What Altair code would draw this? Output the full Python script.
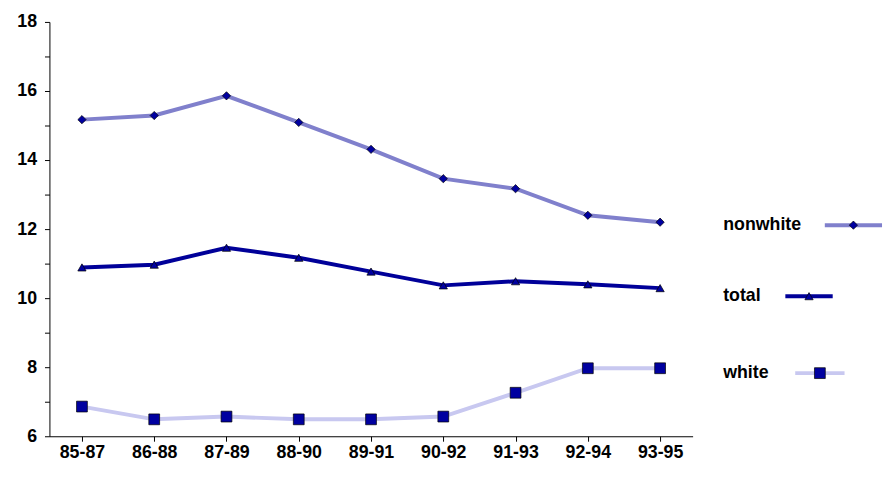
import altair as alt
import pandas as pd

periods = ["85-87", "86-88", "87-89", "88-90", "89-91", "90-92", "91-93", "92-94", "93-95"]
nonwhite = [15.17, 15.29, 15.86, 15.09, 14.31, 13.46, 13.17, 12.4, 12.2]
total = [10.89, 10.97, 11.46, 11.17, 10.77, 10.37, 10.49, 10.4, 10.29]
white = [6.86, 6.49, 6.57, 6.49, 6.49, 6.57, 7.26, 7.97, 7.97]

series = ["nonwhite", "total", "white"]
line_colors = ["#8080cc", "#000099", "#c8c8f0"]
shapes = ["diamond", "triangle-up", "square"]
sizes = [70, 70, 120]

rows = []
for name, vals in zip(series, [nonwhite, total, white]):
    for p, v in zip(periods, vals):
        rows.append({"period": p, "value": v, "series": name})
df = pd.DataFrame(rows)

font = "Liberation Sans"
x = alt.X("period:O", sort=periods, title=None,
          scale=alt.Scale(type="point", padding=0.45),
          axis=alt.Axis(labelAngle=0, labelFontSize=18, labelFontWeight="bold",
                        labelFont=font, labelColor="black", domainColor="black",
                        tickColor="black", labelPadding=3))
y = alt.Y("value:Q", title=None,
          scale=alt.Scale(domain=[6, 18], nice=False),
          axis=alt.Axis(values=list(range(6, 19)), grid=False,
                        labelExpr="datum.value % 2 == 0 ? datum.label : ''",
                        labelFontSize=18, labelFontWeight="bold", labelFont=font,
                        labelColor="black", domainColor="black", tickColor="black",
                        labelPadding=8))

layers = []
for name, lc, sh, sz in zip(series, line_colors, shapes, sizes):
    d = df[df.series == name]
    base = alt.Chart(d).encode(x=x, y=y)
    layers.append(base.mark_line(color=lc, strokeWidth=4))
    layers.append(base.mark_point(shape=sh, size=sz, filled=True, color="#0000a0",
                                  stroke="black", strokeWidth=0.7, opacity=1))
main = alt.layer(*layers).properties(width=652, height=420)

# legend
leg_rows = [206, 278, 356]
leg = pd.DataFrame({"series": series, "row": leg_rows,
                    "x0": [103, 63, 73], "x1": [161, 111, 123], "xm": [132, 87, 98],
                    "xt": [0] * 3})
ly = alt.Y("row:Q", scale=alt.Scale(domain=[420, 0]), axis=None)
lx = alt.Scale(domain=[0, 160])
lb = alt.Chart(leg)
legend_layers = [
    lb.mark_text(align="left", baseline="middle", fontSize=18, fontWeight="bold",
                 font=font, color="black").encode(
        x=alt.X("xt:Q", scale=lx, axis=None), y=ly, text="series:N"),
]
for name, lc, sh, sz in zip(series, line_colors, shapes, sizes):
    s = lb.transform_filter(alt.datum.series == name)
    legend_layers.append(s.mark_rule(color=lc, strokeWidth=4).encode(
        x=alt.X("x0:Q", scale=lx, axis=None), x2="x1:Q", y=ly))
    legend_layers.append(s.mark_point(shape=sh, size=sz, filled=True, color="#0000a0",
                                      stroke="black", strokeWidth=0.7, opacity=1).encode(
        x=alt.X("xm:Q", scale=lx, axis=None), y=ly))
legend = alt.layer(*legend_layers).properties(width=160, height=420)

chart = alt.hconcat(main, legend, spacing=31).configure(
    background="white", padding={"left": 8, "top": 2, "right": 0, "bottom": 0}
).configure_view(stroke=None, strokeWidth=0)
chart.save("out.html", embed_options={"renderer": "svg", "actions": False})
